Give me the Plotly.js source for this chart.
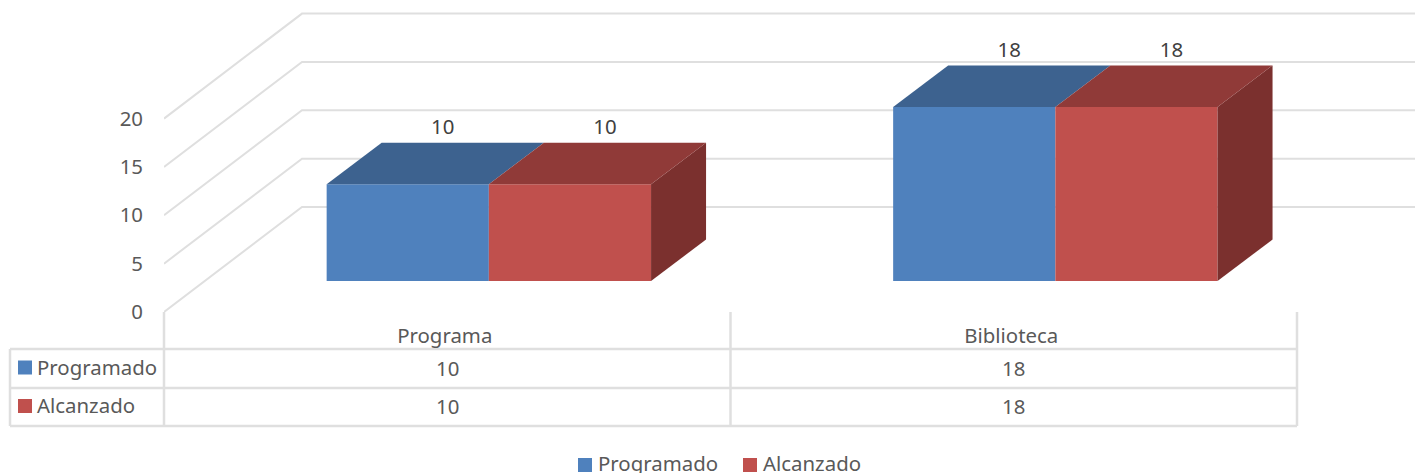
<!DOCTYPE html>
<html>
<head>
<meta charset="utf-8">
<script src="https://cdn.plot.ly/plotly-3.0.1.min.js"></script>
<style>html,body{margin:0;padding:0;background:#fff;overflow:hidden}#chart{width:1415px;height:473px}</style>
</head>
<body>
<div id="chart"></div>
<script>
// Data
const categories = ["Programa", "Biblioteca"];
const seriesNames = ["Programado", "Alcanzado"];
const programado = [10, 18];
const alcanzado = [10, 18];
const yTicks = [0, 5, 10, 15, 20];

// Styles
const FONT = "'Noto Sans', 'Open Sans', sans-serif";
const FS = 20.4;
const TEXT = "#595959";
const LABEL = "#404040";
const GRID = "#dfdfdf";
const FRONT = ["#4f81bd", "#c0504d"];
const TOP = ["#3d628f", "#903a38"];
const SIDE = "#7b302e";

// Pixel geometry of the oblique projection
const W = 1415, H = 473;
const L = 164, B = 312;           // front-left floor corner
const CAT = 566.5;                // px per category
const UNIT = 9.67;                // px per value unit
const BAR_PX = 162.2;
const px2x = p => (p - L) / CAT - 0.5;
const wallDX = 138 / CAT, wallDY = 105 / UNIT;   // floor depth
const barDX = 55 / CAT, barDY = 41.5 / UNIT;     // bar depth
const barShiftX = 41.6 / CAT, barBase = 31 / UNIT; // bars stand mid-floor
const barW = BAR_PX / CAT;
const paperX = p => (p - L) / (W - L);
const paperY = p => (B - p) / B;

const series = [programado, alcanzado];
const traces = [];

// Front faces: real bars
series.forEach((vals, s) => {
  traces.push({
    type: "bar", name: seriesNames[s], showlegend: false,
    x: categories.map((_, i) => i + barShiftX),
    y: vals, base: vals.map(() => barBase),
    width: barW, offset: (s - 1) * barW,
    marker: {color: FRONT[s], line: {width: 0}},
    hoverinfo: "name+text", text: vals.map(String), textposition: "none"
  });
});

// Side and top faces derived from the same values
function face(xs, ys, color) {
  traces.push({type: "scatter", mode: "none", x: xs, y: ys, fill: "toself",
    fillcolor: color, showlegend: false, hoverinfo: "skip", cliponaxis: false});
}
series.forEach((vals, s) => {
  vals.forEach((v, i) => {
    const x0 = i + barShiftX + (s - 1) * barW, x1 = x0 + barW;
    const y0 = barBase, yT = barBase + v;
    if (s === series.length - 1) {
      face([x1, x1 + barDX, x1 + barDX, x1, x1], [y0, y0 + barDY, yT + barDY, yT, y0], SIDE);
    }
    face([x0, x1, x1 + barDX, x0 + barDX, x0], [yT, yT, yT + barDY, yT + barDY, yT], TOP[s]);
  });
});

// Data labels
series.forEach((vals, s) => {
  traces.push({
    type: "scatter", mode: "text", showlegend: false, hoverinfo: "skip", cliponaxis: false,
    x: categories.map((_, i) => i + barShiftX + (s - 0.5) * barW + 35 / CAT),
    y: vals.map(v => barBase + v + 55.5 / UNIT),
    text: vals.map(String), textposition: "middle center",
    textfont: {family: FONT, size: FS, color: LABEL}
  });
});

// Walls' gridlines, behind the bars
const shapes = [];
const xEnd = px2x(W);
yTicks.forEach(t => {
  shapes.push({type: "path", layer: "below", xref: "x", yref: "y",
    path: `M${-0.5},${t} L${-0.5 + wallDX},${t + wallDY} L${xEnd},${t + wallDY}`,
    line: {color: GRID, width: 2}});
});

// Data table
function seg(x0, y0, x1, y1) {
  shapes.push({type: "line", layer: "below", xref: "paper", yref: "paper",
    x0: paperX(x0), x1: paperX(x1), y0: paperY(y0), y1: paperY(y1),
    line: {color: GRID, width: 2.5}});
}
const rowY = [349, 388, 426];
const tableRight = L + CAT * categories.length;
rowY.forEach(y => seg(10, y, tableRight, y));
seg(10, 349, 10, 426);
for (let i = 0; i <= categories.length; i++) seg(L + CAT * i, 312, L + CAT * i, 426);

const annotations = [];
function note(text, px, py, anchor) {
  annotations.push({text, xref: "paper", yref: "paper", x: paperX(px), y: paperY(py),
    xanchor: anchor, yanchor: "middle", showarrow: false,
    font: {family: FONT, size: FS, color: TEXT}});
}
function key(x0, y0, color) {
  shapes.push({type: "rect", xref: "paper", yref: "paper",
    x0: paperX(x0), x1: paperX(x0 + 14), y0: paperY(y0), y1: paperY(y0 + 14),
    fillcolor: color, line: {width: 0}});
}
const rowMid = [367.5, 406];
series.forEach((vals, s) => {
  key(18, rowMid[s] - 7, FRONT[s]);
  note(seriesNames[s], 35, rowMid[s] - 1, "left");
  vals.forEach((v, i) => note(String(v), L + CAT * (i + 0.5), rowMid[s], "center"));
});

// Bottom legend
const legendKeyX = [578, 743];
seriesNames.forEach((name, s) => {
  key(legendKeyX[s], 458, FRONT[s]);
  note(name, legendKeyX[s] + 18, 463, "left");
});

const layout = {
  width: W, height: H,
  margin: {l: L, r: 0, t: 0, b: H - B, pad: 0, autoexpand: false},
  paper_bgcolor: "#fff", plot_bgcolor: "rgba(0,0,0,0)",
  font: {family: FONT, size: FS, color: TEXT},
  showlegend: false,
  barmode: "overlay",
  xaxis: {type: "linear", range: [-0.5, xEnd], tickmode: "array",
    tickvals: categories.map((_, i) => i - 2.5 / CAT), ticktext: categories,
    showgrid: false, zeroline: false, showline: false, ticks: "", ticklabelstandoff: 10,
    tickfont: {family: FONT, size: FS, color: TEXT}, fixedrange: true},
  yaxis: {range: [0, B / UNIT], tickmode: "array", tickvals: yTicks, ticktext: yTicks.map(String),
    showgrid: false, zeroline: false, showline: false, ticks: "", ticklabelstandoff: 20,
    tickfont: {family: FONT, size: FS, color: TEXT}, fixedrange: true},
  shapes, annotations
};

Plotly.newPlot("chart", traces, layout, {displayModeBar: false});
</script>
</body>
</html>
